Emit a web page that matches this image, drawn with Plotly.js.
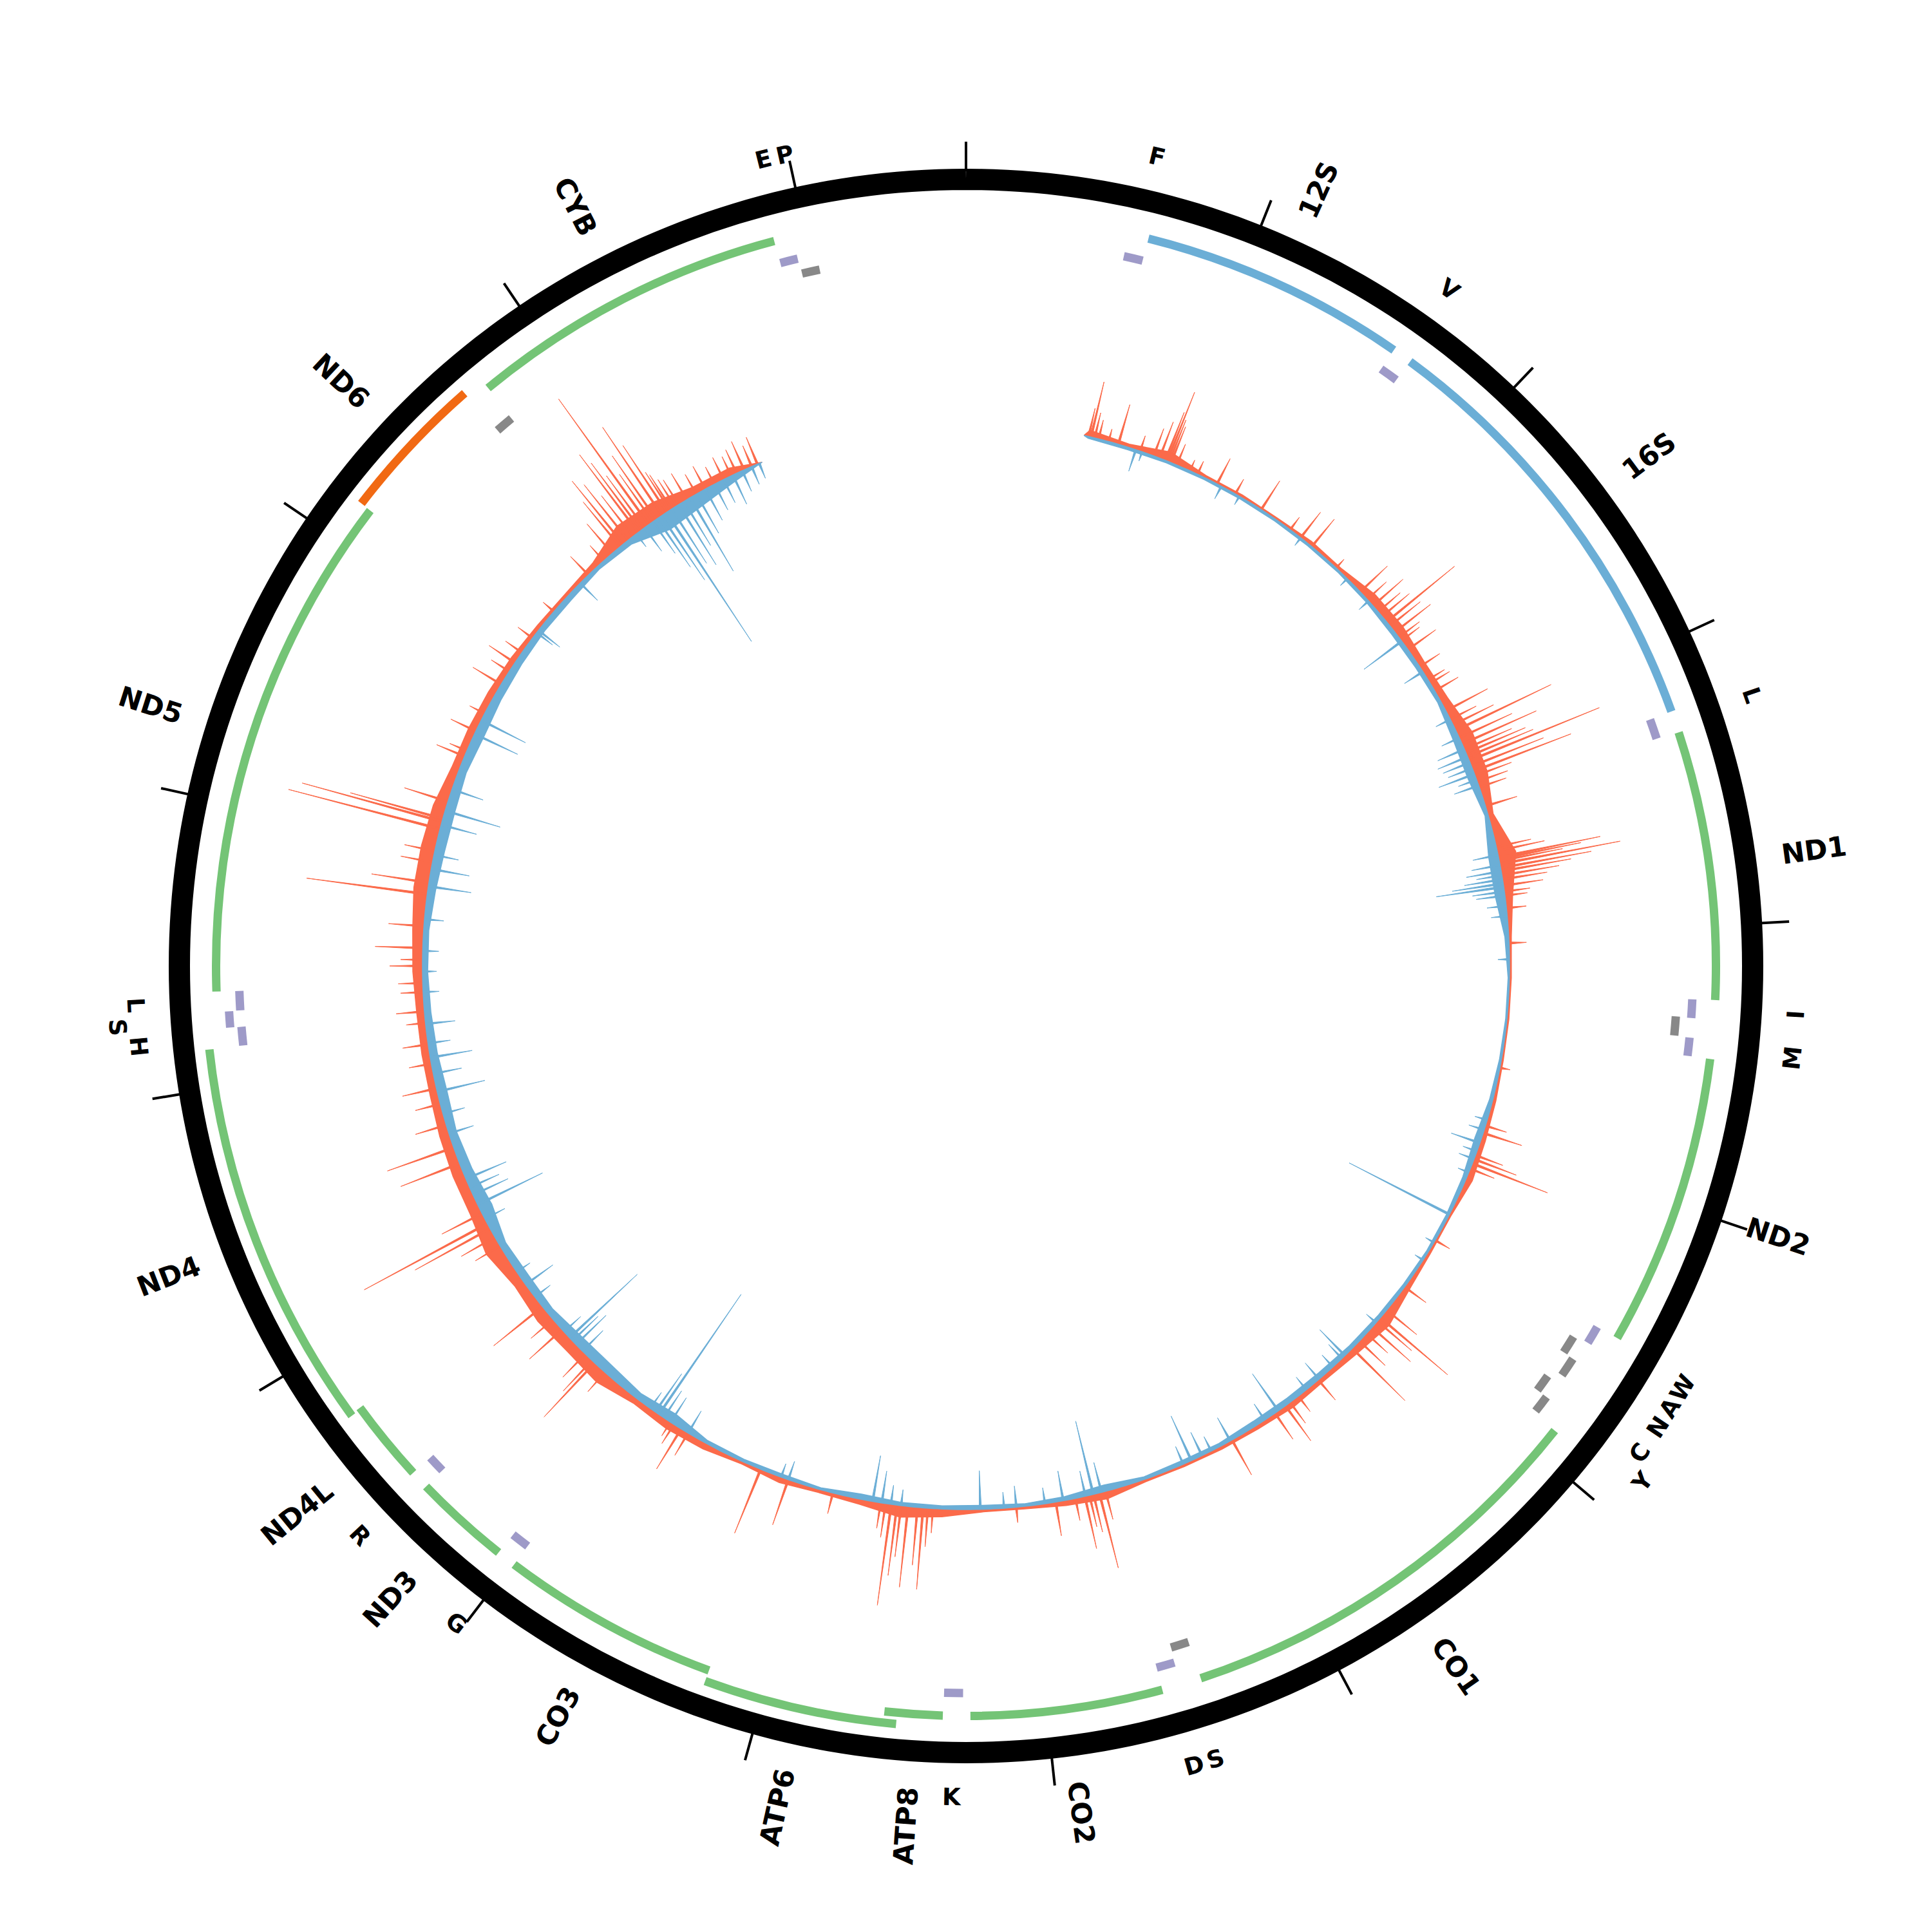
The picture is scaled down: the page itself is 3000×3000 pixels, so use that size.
<!DOCTYPE html>
<html>
<head>
<meta charset="utf-8">
<script src="https://cdn.plot.ly/plotly-3.0.1.min.js"></script>
<style>html,body{margin:0;padding:0;background:#ffffff;}</style>
</head>
<body>
<div id="chart" style="width:3000px;height:3000px;"></div>
<script>
// ---------------- DATA ----------------
const GENOME_LENGTH = 16569;
const tickPositions = [0,1000,2000,3000,4000,5000,6000,7000,8000,9000,10000,11000,12000,13000,14000,15000,16000];

// genes (rRNA + protein coding)
const geneNames  = ['12S','16S','ND1','ND2','CO1','CO2','ATP8','ATP6','CO3','ND3','ND4L','ND4','ND5','ND6','CYB'];
const geneStart  = [648,1671,3307,4470,5904,7586,8366,8527,9207,10059,10470,10760,12337,14149,14747];
const geneEnd    = [1601,3229,4262,5511,7445,8269,8572,9207,9990,10404,10766,12137,14148,14673,15887];
const geneKind   = ['rRNA','rRNA','H','H','H','H','H','H','H','H','H','H','H','L','H'];

// tRNAs
const trnaStart  = [577,1602,3230,4263,4329,4402,5512,5587,5657,5761,5826,7446,7518,8295,9991,10405,12138,12207,12266,14674,15888,15956];
const trnaEnd    = [647,1670,3304,4331,4400,4469,5579,5655,5729,5826,5891,7514,7585,8364,10058,10469,12206,12265,12336,14742,15953,16023];
const trnaStrand = ['H','H','H','H','L','H','H','L','L','L','L','L','H','H','H','H','H','H','H','L','H','L'];
const trnaLabel  = ['F','V','L','I','','M','W','A','N','C','Y','S','D','K','G','R','H','S','L','','E','P'];

// coverage track
const coverageStart = 577;
const coverageEnd = 15555;
const binCenters = [600,800,1000,1200,1400,1600,1800,2000,2200,2400,2600,2800,3000,3200,3400,3600,3800,4000,4200,4400,4600,4800,5000,5200,5400,5600,5800,6000,6200,6400,6600,6800,7000,7200,7400,7600,7800,8000,8200,8400,8600,8800,9000,9200,9400,9600,9800,10000,10200,10400,10600,10800,11000,11200,11400,11600,11800,12000,12200,12400,12600,12800,13000,13200,13400,13600,13800,14000,14200,14400,14600,14800,15000,15200,15400];
const redBody  = [10,5,15,4,4,3,6,5,14,15,10,12,22,20,8,28,12,4,3,3,3,5,7,10,3,4,8,18,11,7,9,6,5,4,4,12,8,4,4,12,18,8,5,9,4,10,12,9,20,17,20,15,25,17,17,15,12,12,12,15,17,22,22,20,12,12,11,9,6,5,9,28,25,12,12];
const blueBody = [3,4,3,3,3,3,3,3,4,6,6,5,10,12,5,15,15,6,2,2,3,5,10,6,4,3,4,5,6,8,8,8,5,6,4,10,6,4,6,5,5,8,3,5,4,5,15,10,15,15,10,12,10,20,15,12,15,12,10,8,8,12,15,15,12,15,12,10,8,8,5,8,25,20,10];

const redPeakPos = [600,612,630,650,700,749,860,930,960,990,1000,1010,1020,1050,1120,1160,1266,1367,1514,1685,1749,1818,1975,2140,2190,2232,2270,2300,2334,2360,2398,2430,2450,2504,2605,2680,2700,2743,2854,2900,2930,2960,3000,3033,3060,3080,3100,3121,3150,3176,3200,3230,3259,3355,3560,3580,3611,3620,3630,3645,3664,3680,3700,3720,3751,3780,3800,3861,4031,4639,4929,4966,5080,5100,5123,5150,5537,5808,5950,5998,6020,6060,6100,6150,6200,6425,6550,6600,6628,6690,6936,7600,7631,7660,7680,7703,7750,7847,8040,8446,8470,8493,8520,8566,8600,8620,8648,8676,8700,8937,9163,9306,9700,9739,9780,9800,10200,10268,10285,10330,10494,10560,10641,11000,11050,11097,11125,11180,11446,11529,11644,11750,11828,11950,12045,12150,12206,12300,12344,12427,12457,12514,12620,12776,12832,12933,12988,13099,13136,13150,13237,13471,13500,13605,13700,13863,13937,13987,14047,14134,14300,14544,14645,14700,14750,14770,14800,14830,14862,14880,14900,14926,14950,14970,15004,15032,15050,15060,15080,15100,15147,15200,15250,15300,15350,15391,15420,15460,15500,15530];
const redPeakVal = [45,88,40,30,20,64,25,45,60,80,115,70,60,35,18,22,44,26,53,24,50,55,18,58,40,62,45,55,136,60,70,40,35,53,37,30,35,42,73,45,70,164,90,126,80,100,110,218,120,162,60,50,44,51,55,75,161,130,100,190,143,110,90,70,62,40,35,31,27,16,34,63,45,70,125,40,26,41,60,137,70,80,45,55,115,41,30,40,67,49,62,45,120,60,50,83,35,53,24,38,60,127,90,126,80,110,158,53,40,33,74,107,40,73,35,25,40,115,65,50,68,45,97,45,60,133,217,70,98,109,50,40,54,35,40,30,44,35,38,51,34,74,55,189,90,50,48,243,225,149,71,47,29,43,26,51,33,48,31,28,22,40,32,60,90,126,110,80,151,130,100,240,90,120,165,124,70,63,50,45,47,35,40,30,38,33,40,48,35,45];

const bluePeakPos = [838,870,1290,1390,1750,2050,2200,2453,2633,2900,3000,3060,3100,3130,3160,3190,3220,3250,3600,3650,3680,3700,3720,3740,3757,3780,3800,3850,3900,4110,4900,4950,5017,5060,5100,5170,5394,5550,5650,6030,6250,6270,6330,6420,6500,6670,6750,6945,7050,7100,7157,7200,7620,7661,7700,7810,7900,8040,8100,8215,8600,8650,8695,8740,9163,9200,9700,9800,9840,9868,9890,9920,10350,10395,10420,10440,10480,10700,10775,10850,11150,11228,11280,11320,11365,11600,11700,11811,11900,11980,12050,12145,12300,12400,12500,12654,12815,12900,12970,13120,13191,13300,13590,13664,14168,14182,14488,14850,14900,14950,14975,15000,15029,15060,15100,15130,15165,15200,15250,15300,15350,15400,15450,15500,15540];
const bluePeakVal = [35,15,22,15,15,15,20,73,34,25,30,45,50,45,40,59,30,40,40,45,55,40,60,80,106,50,45,30,25,18,20,25,47,23,25,18,175,15,15,20,56,30,25,33,25,70,30,41,25,40,76,30,48,117,40,47,25,33,25,60,25,30,50,72,30,22,40,45,50,226,72,30,45,65,55,144,35,30,52,25,35,112,60,50,68,40,35,76,45,66,35,46,25,22,25,30,67,60,39,57,89,51,74,77,31,42,38,25,45,60,91,120,240,100,110,80,132,70,55,45,40,50,35,30,25];

// ---------------- STYLE / GEOMETRY ----------------
const C_RED = '#fb6a4a', C_BLUE = '#6baed6', C_GREEN = '#74c476', C_ORANGE = '#f16913', C_PURPLE = '#9e9ac8', C_GRAY = '#888888';
const R_RING = 1221.5, RING_W = 33;
const TICK_IN = 1238, TICK_OUT = 1280;
const GENE_R = 1164.5, ARC_W = 13, LEVEL_STEP = 17.5;
const TRNA_H_R = 1129, TRNA_L_R = 1105;
const BASE_R = 844;
const GENE_LABEL_R0 = 1278, TRNA_LABEL_R = 1291, TRNA_LABEL_STEP = 30;
const FONT = '"DejaVu Sans", "Liberation Sans", sans-serif';
const GENE_FONT_SIZE = 43, TRNA_FONT_SIZE = 37;
const PEAK_HW = 0.12;

const deg = p => p / GENOME_LENGTH * 360;

function stackLevels(starts, ends, pad) {
  const lastEnd = [];
  return starts.map((s, i) => {
    let lv = 0;
    while (lastEnd[lv] !== undefined && s <= lastEnd[lv] + pad) lv++;
    lastEnd[lv] = ends[i];
    return lv;
  });
}

const traces = [];

// outer ring
const ringTheta = [], ringR = [];
for (let a = 0; a <= 360; a += 1) { ringTheta.push(a); ringR.push(R_RING); }
traces.push({type:'scatterpolar', mode:'lines', theta:ringTheta, r:ringR,
  line:{color:'#000000', width:RING_W}, hoverinfo:'skip'});

// ticks
const tT = [], tR = [];
tickPositions.forEach(p => { tT.push(deg(p), deg(p), null); tR.push(TICK_IN - 4, TICK_OUT, null); });
traces.push({type:'scatterpolar', mode:'lines', theta:tT, r:tR, line:{color:'#000000', width:4}, hoverinfo:'skip'});

// gene arcs
const geneLevels = stackLevels(geneStart, geneEnd, 10);
const geneColor = k => k === 'rRNA' ? C_BLUE : (k === 'L' ? C_ORANGE : C_GREEN);
[C_BLUE, C_GREEN, C_ORANGE].forEach(col => {
  const th = [], w = [], b = [], r = [];
  geneNames.forEach((g, i) => {
    if (geneColor(geneKind[i]) !== col) return;
    th.push(deg((geneStart[i] + geneEnd[i]) / 2));
    w.push(deg(geneEnd[i] - geneStart[i]));
    b.push(GENE_R - ARC_W / 2 + geneLevels[i] * LEVEL_STEP);
    r.push(ARC_W);
  });
  traces.push({type:'barpolar', theta:th, width:w, base:b, r:r,
    marker:{color:col, line:{width:0}}, hoverinfo:'skip'});
});

// tRNA arcs
['H', 'L'].forEach(strand => {
  const idx = trnaStart.map((s, i) => i).filter(i => trnaStrand[i] === strand);
  const lv = stackLevels(idx.map(i => trnaStart[i]), idx.map(i => trnaEnd[i]), 10);
  const base0 = strand === 'H' ? TRNA_H_R : TRNA_L_R;
  traces.push({type:'barpolar',
    theta: idx.map(i => deg((trnaStart[i] + trnaEnd[i]) / 2)),
    width: idx.map(i => deg(trnaEnd[i] - trnaStart[i])),
    base: lv.map(l => base0 - ARC_W / 2 + l * LEVEL_STEP),
    r: idx.map(() => ARC_W),
    marker:{color: strand === 'H' ? C_PURPLE : C_GRAY, line:{width:0}}, hoverinfo:'skip'});
});

// coverage bodies
function bodyTrace(vals, sign, color) {
  const th = [deg(coverageStart)], r = [BASE_R];
  binCenters.forEach((p, i) => { th.push(deg(p)); r.push(BASE_R + sign * vals[i]); });
  th.push(deg(coverageEnd)); r.push(BASE_R);
  for (let a = deg(coverageEnd); a > deg(coverageStart); a -= 0.5) { th.push(a); r.push(BASE_R); }
  th.push(deg(coverageStart)); r.push(BASE_R);
  return {type:'scatterpolar', mode:'lines', theta:th, r:r, fill:'toself',
    fillcolor:color, line:{color:color, width:1.5}, hoverinfo:'skip'};
}
function peakTrace(pos, vals, sign, color) {
  const th = [], r = [];
  pos.forEach((p, i) => {
    const t = deg(p);
    th.push(t - PEAK_HW, t, t + PEAK_HW, null);
    r.push(BASE_R, BASE_R + sign * vals[i], BASE_R, null);
  });
  return {type:'scatterpolar', mode:'lines', theta:th, r:r, fill:'toself', connectgaps:false,
    fillcolor:color, line:{color:color, width:1}, hoverinfo:'skip'};
}
traces.push(bodyTrace(redBody, 1, C_RED));
traces.push(peakTrace(redPeakPos, redPeakVal, 1, C_RED));
traces.push(bodyTrace(blueBody, -1, C_BLUE));
traces.push(peakTrace(bluePeakPos, bluePeakVal, -1, C_BLUE));

// ---------------- LABELS ----------------
const canvas = document.createElement('canvas');
const ctx = canvas.getContext('2d');
function textWidth(txt, size) { ctx.font = 'bold ' + size + 'px ' + FONT; return ctx.measureText(txt).width; }
const toPaper = (r, a) => {
  const rad = a * Math.PI / 180;
  return {x: 0.5 + r * Math.sin(rad) / 3000, y: 0.5 + r * Math.cos(rad) / 3000};
};
const annotations = [];
geneNames.forEach((g, i) => {
  const a = deg((geneStart[i] + geneEnd[i]) / 2);
  const w = textWidth(g, GENE_FONT_SIZE);
  const pt = toPaper(GENE_LABEL_R0 + w / 2, a);
  const ang = a < 180 ? a - 90 : a - 270;
  annotations.push({xref:'paper', yref:'paper', x:pt.x, y:pt.y, xanchor:'center', yanchor:'middle',
    text:'<b>' + g + '</b>', showarrow:false, textangle:ang,
    font:{family:FONT, size:GENE_FONT_SIZE, color:'#000000'}});
});
let lastLabelAngle = [];
trnaLabel.forEach((lab, i) => {
  if (!lab) return;
  const a = deg((trnaStart[i] + trnaEnd[i]) / 2);
  let lv = 0;
  while (lastLabelAngle[lv] !== undefined && a - lastLabelAngle[lv] < 1.45) lv++;
  lastLabelAngle[lv] = a;
  const pt = toPaper(TRNA_LABEL_R + lv * TRNA_LABEL_STEP, a);
  let ang = (a >= 90 && a <= 270) ? a - 180 : (a > 270 ? a - 360 : a);
  annotations.push({xref:'paper', yref:'paper', x:pt.x, y:pt.y, xanchor:'center', yanchor:'middle',
    text:'<b>' + lab + '</b>', showarrow:false, textangle:ang,
    font:{family:FONT, size:TRNA_FONT_SIZE, color:'#000000'}});
});

const layout = {
  width:3000, height:3000, margin:{l:0, r:0, t:0, b:0},
  paper_bgcolor:'#ffffff', showlegend:false, dragmode:false,
  polar:{
    domain:{x:[0,1], y:[0,1]}, bgcolor:'#ffffff', barmode:'overlay', bargap:0, hole:0,
    radialaxis:{range:[0,1500], visible:false, showgrid:false, showline:false, showticklabels:false, ticks:''},
    angularaxis:{rotation:90, direction:'clockwise', thetaunit:'degrees', visible:false,
      showgrid:false, showline:false, showticklabels:false, ticks:''}
  },
  annotations: annotations
};
Plotly.newPlot('chart', traces, layout, {staticPlot:true, displayModeBar:false});
</script>
</body>
</html>
